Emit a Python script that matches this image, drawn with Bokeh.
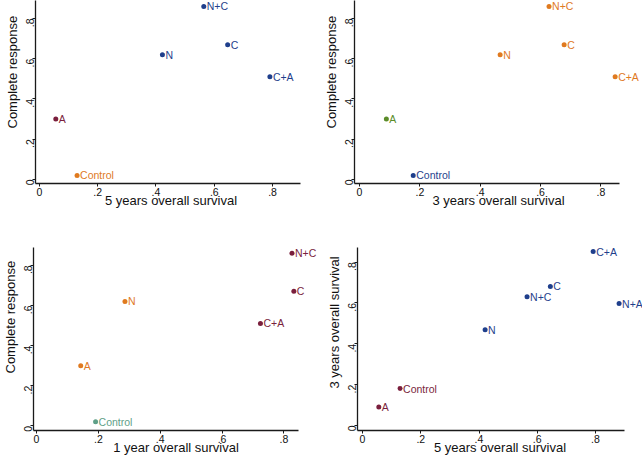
import math
from bokeh.plotting import figure
from bokeh.models import Range1d, FixedTicker, Title
from bokeh.layouts import column, row
from bokeh.core.properties import value
from bokeh.embed import file_html
from bokeh.resources import INLINE

# ---------------- data ----------------
tick_values = [0, 0.2, 0.4, 0.6, 0.8]
tick_labels = ["0", ".2", ".4", ".6", ".8"]

arms_cr = ["A", "Control", "N", "N+C", "C", "C+A"]
complete_response = [0.30, 0.02, 0.62, 0.86, 0.67, 0.51]
os5_cr = [0.056, 0.129, 0.422, 0.564, 0.646, 0.791]
os3_cr = [0.089, 0.178, 0.466, 0.628, 0.678, 0.847]
os1_cr = [0.143, 0.191, 0.286, 0.826, 0.832, 0.724]

arms_os = ["A", "Control", "N", "N+C", "C", "C+A", "N+A"]
os5 = [0.056, 0.129, 0.421, 0.565, 0.645, 0.792, 0.881]
os3 = [0.090, 0.181, 0.469, 0.630, 0.681, 0.852, 0.597]

# ---------------- styles ----------------
NAVY = "#1f3f8c"
ORANGE = "#e07a1f"
MAROON = "#7a1f3d"
GREEN = "#5b8c2a"
TEAL = "#5fa088"
FONT = "Liberation Sans"
INK = "#111111"

colors1 = [MAROON, ORANGE, NAVY, NAVY, NAVY, NAVY]
colors2 = [GREEN, NAVY, ORANGE, ORANGE, ORANGE, ORANGE]
colors3 = [ORANGE, TEAL, ORANGE, MAROON, MAROON, MAROON]
colors4 = [MAROON, MAROON, NAVY, NAVY, NAVY, NAVY, NAVY]


def panel(x, y, labels, colors, xlabel, ylabel, width, height, xr, yr,
          x_axis_end, left, right, top, bottom, ylabel_start):
    p = figure(width=width, height=height,
               x_range=Range1d(*xr), y_range=Range1d(*yr),
               output_backend="svg", toolbar_location=None,
               min_border_left=left, min_border_right=right,
               min_border_top=top, min_border_bottom=bottom)
    p.outline_line_color = None
    p.grid.visible = False
    p.background_fill_color = "white"
    p.border_fill_color = "white"

    p.scatter(x=x, y=y, size=5, color=colors, line_width=0)
    p.text(x=x, y=y, text=labels, x_offset=3, text_baseline="middle",
           text_align="left", text_font=value(FONT),
           text_font_size="10.5px", text_color=colors)

    overrides = {v: s for v, s in zip(tick_values, tick_labels)}
    for ax in (p.xaxis[0], p.yaxis[0]):
        ax.ticker = FixedTicker(ticks=tick_values)
        ax.major_label_overrides = overrides
        ax.axis_line_width = 1.3
        ax.axis_line_color = "#1a1a1a"
        ax.major_tick_line_color = "#1a1a1a"
        ax.major_tick_out = 3
        ax.major_tick_in = 0
        ax.minor_tick_out = 0
        ax.minor_tick_in = 0
        ax.major_label_text_font = FONT
        ax.major_label_text_font_size = "10.5px"
        ax.major_label_text_color = INK
        ax.axis_label_text_font = FONT
        ax.axis_label_text_font_size = "13px"
        ax.axis_label_text_font_style = "normal"
        ax.axis_label_text_color = INK
    p.xaxis.major_label_standoff = 1
    p.xaxis.axis_label_standoff = -6
    p.yaxis.major_label_standoff = 2
    p.xaxis.axis_label = xlabel
    p.yaxis.major_label_orientation = math.pi / 2
    p.xaxis.bounds = (xr[0], x_axis_end)

    # y-axis title, placed along the left side starting ylabel_start px
    # above the bottom of the plot frame
    ytitle = Title(text=ylabel, align="left", offset=ylabel_start,
                   standoff=0, text_font=FONT, text_font_size="13px",
                   text_font_style="normal", text_color=INK)
    p.add_layout(ytitle, "left")
    return p


p1 = panel(os5_cr, complete_response, arms_cr, colors1,
           "5 years overall survival", "Complete response",
           321, 213, (-0.0137, 0.9167), (-0.0199, 0.8894),
           0.896, 35, 15, 0, 30, 55)
p2 = panel(os3_cr, complete_response, arms_cr, colors2,
           "3 years overall survival", "Complete response",
           321, 213, (-0.0165, 0.9376), (-0.0199, 0.8894),
           0.863, 32, 0, 0, 30, 55)
p3 = panel(os1_cr, complete_response, arms_cr, colors3,
           "1 year overall survival", "Complete response",
           321, 247, (-0.0097, 0.9117), (-0.0232, 0.8886),
           0.847, 32, 3, 32, 30, 57)
p4 = panel(os5, os3, arms_os, colors4,
           "5 years overall survival", "3 years overall survival",
           321, 247, (-0.0172, 0.9614), (-0.0245, 0.8717),
           0.8985, 36, 0, 34, 30, 42)

layout = column(row(p1, p2), row(p3, p4))
open("out.html", "w").write(file_html(layout, INLINE))
